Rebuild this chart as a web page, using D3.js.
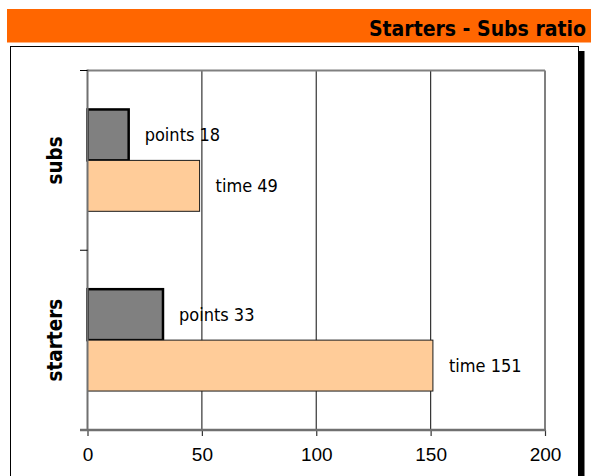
<!DOCTYPE html>
<html>
<head>
<meta charset="utf-8">
<script src="https://cdn.jsdelivr.net/npm/d3@7/dist/d3.min.js"></script>
<style>
  html, body { margin: 0; padding: 0; background: #fff; }
  svg { display: block; }
</style>
</head>
<body>
<svg id="chart" width="591" height="476"></svg>
<script>
// ---- data ----
const categories = ["subs", "starters"];
const seriesNames = ["points", "time"];
const pointsValues = [18, 33];
const timeValues = [49, 151];
const xTicks = [0, 50, 100, 150, 200];
const titleText = "Starters - Subs ratio";

const rows = categories.map((c, i) => ({
  cat: c,
  values: [
    { key: "points", v: pointsValues[i] },
    { key: "time", v: timeValues[i] }
  ]
}));

const svg = d3.select("#chart");
const W = 591, H = 476;
const labelFont = "'DejaVu Sans Condensed', 'Liberation Sans', Arial, sans-serif";

svg.append("rect").attr("width", W).attr("height", H).attr("fill", "#fff");

// header band
svg.append("rect").attr("x", 7).attr("y", 9).attr("width", W - 7).attr("height", 33.5).attr("fill", "#FF6600");
svg.append("text")
  .attr("x", 586).attr("y", 36)
  .attr("text-anchor", "end")
  .attr("font-family", labelFont)
  .attr("font-weight", "bold")
  .attr("font-size", 21)
  .attr("fill", "#000")
  .text(titleText);

// shadow + frame
svg.append("rect").attr("x", 579).attr("y", 51).attr("width", 5.5).attr("height", H).attr("fill", "#000");
svg.append("rect").attr("x", 10.5).attr("y", 46.5).attr("width", 568).attr("height", H)
  .attr("fill", "#fff").attr("stroke", "#000").attr("stroke-width", 1);

// scales
const plot = { left: 87.5, right: 545, top: 70.5, bottom: 430 };
const x = d3.scaleLinear().domain([0, 200]).range([plot.left, plot.right]);
const y = d3.scaleBand().domain(categories).range([plot.top, plot.bottom])
  .paddingInner(0.4333).paddingOuter(0.2167);
const ySub = d3.scaleBand().domain(seriesNames).range([0, y.bandwidth()]);
const fills = { points: "#808080", time: "#FFCC99" };
const strokes = { points: "#000", time: "#1a1a1a" };
const strokeW = { points: 2.5, time: 1 };

// gridlines
svg.append("g").selectAll("line")
  .data(xTicks.filter(t => t > 0 && t < 200))
  .join("line")
  .attr("x1", d => x(d)).attr("x2", d => x(d))
  .attr("y1", plot.top).attr("y2", plot.bottom)
  .attr("stroke", "#333").attr("stroke-width", 1.2);

// plot border (top, right)
svg.append("line").attr("x1", plot.left).attr("x2", plot.right).attr("y1", plot.top).attr("y2", plot.top)
  .attr("stroke", "#808080").attr("stroke-width", 2);
svg.append("line").attr("x1", plot.right).attr("x2", plot.right).attr("y1", plot.top).attr("y2", plot.bottom)
  .attr("stroke", "#808080").attr("stroke-width", 2);

// bars
const groups = svg.append("g").selectAll("g")
  .data(rows).join("g")
  .attr("transform", d => `translate(0,${y(d.cat)})`);

groups.selectAll("rect")
  .data(d => d.values).join("rect")
  .attr("x", x(0))
  .attr("y", d => ySub(d.key))
  .attr("width", d => x(d.v) - x(0))
  .attr("height", ySub.bandwidth())
  .attr("fill", d => fills[d.key])
  .attr("stroke", d => strokes[d.key])
  .attr("stroke-width", d => strokeW[d.key]);

groups.selectAll("text")
  .data(d => d.values).join("text")
  .attr("x", d => x(d.v) + 16)
  .attr("y", d => ySub(d.key) + ySub.bandwidth() / 2)
  .attr("dy", "0.36em")
  .attr("font-family", labelFont)
  .attr("font-size", 18)
  .attr("fill", "#000")
  .text(d => `${d.key} ${d.v}`);

// y axis line
svg.append("line").attr("x1", plot.left).attr("x2", plot.left).attr("y1", plot.top - 1).attr("y2", plot.bottom)
  .attr("stroke", "#707070").attr("stroke-width", 2);

// y boundary ticks
const boundaries = d3.range(categories.length + 1).map(i => plot.top + i * y.step());
svg.append("g").selectAll("line")
  .data(boundaries.slice(0, -1)).join("line")
  .attr("x1", plot.left - 7.5).attr("x2", plot.left)
  .attr("y1", d => d).attr("y2", d => d)
  .attr("stroke", "#000").attr("stroke-width", 1);

// x axis
const xAxis = d3.axisBottom(x).tickValues(xTicks).tickSize(6).tickPadding(12).tickSizeOuter(0);
const gx = svg.append("g").attr("transform", `translate(0,${plot.bottom})`).call(xAxis);
gx.select(".domain").remove();
gx.selectAll(".tick line").attr("stroke", "#333").attr("stroke-width", 1.2);
gx.selectAll(".tick text")
  .attr("font-family", "'Liberation Sans', Arial, sans-serif")
  .attr("font-size", 19)
  .attr("fill", "#000");
svg.append("line").attr("x1", plot.left - 7.5).attr("x2", plot.right + 1).attr("y1", plot.bottom).attr("y2", plot.bottom)
  .attr("stroke", "#707070").attr("stroke-width", 2.5);

// category labels
svg.append("g").selectAll("text")
  .data(categories).join("text")
  .attr("transform", d => `translate(62,${y(d) + y.bandwidth() / 2}) rotate(-90)`)
  .attr("text-anchor", "middle")
  .attr("font-family", labelFont)
  .attr("font-weight", "bold")
  .attr("font-size", 20.5)
  .attr("fill", "#000")
  .text(d => d);
</script>
</body>
</html>
